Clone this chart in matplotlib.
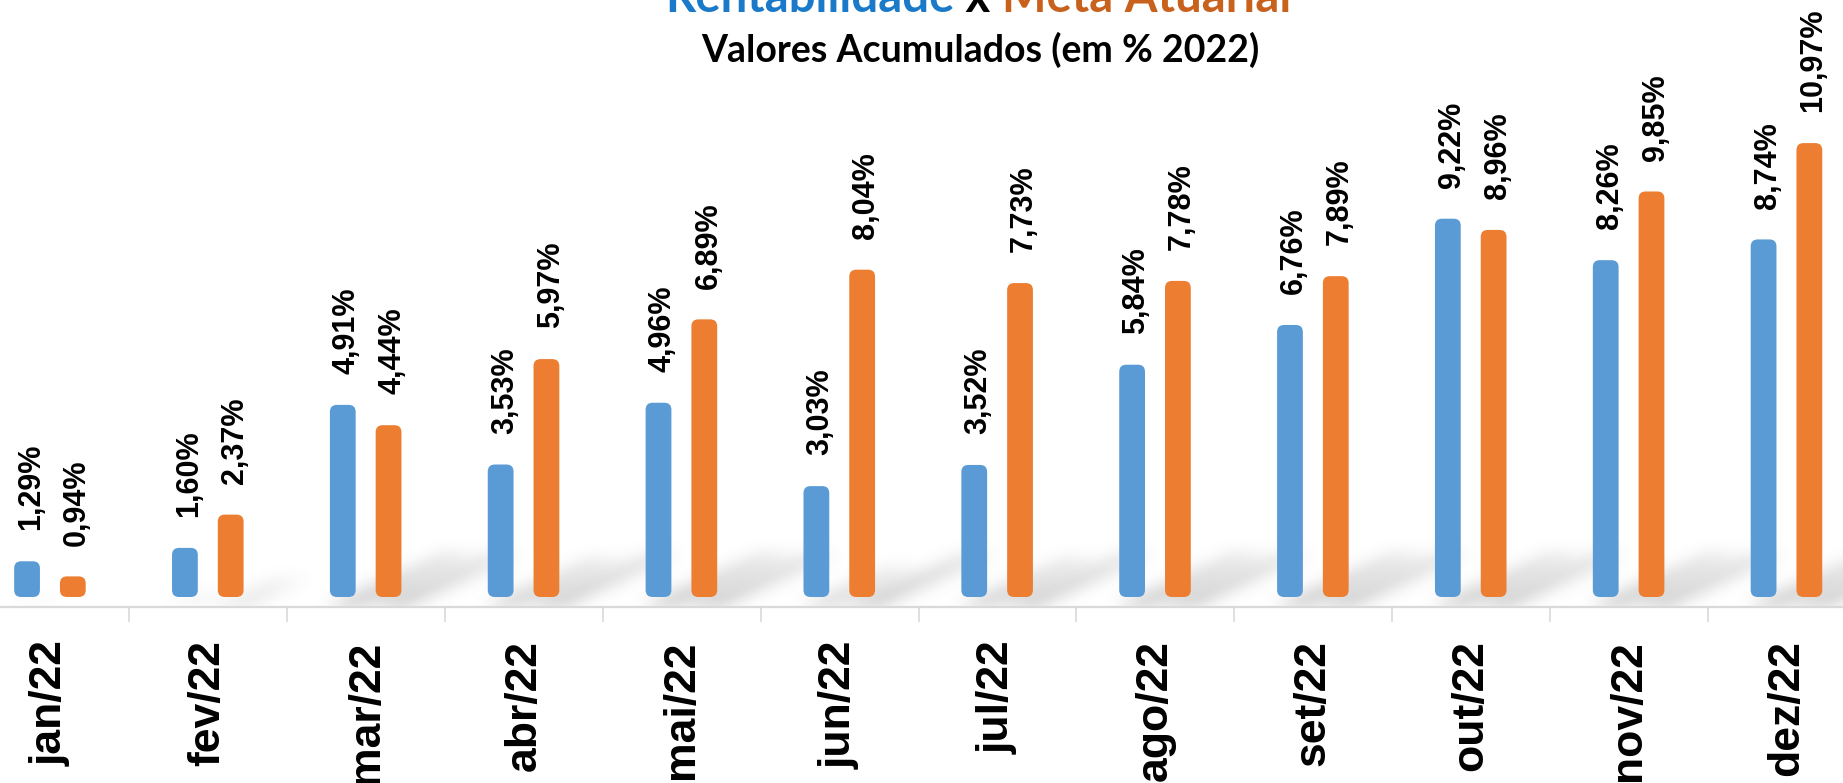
import numpy as np
import matplotlib
matplotlib.use('Agg')
import matplotlib.pyplot as plt
from matplotlib.patches import FancyBboxPatch

# ---------------- data ----------------
months = ['jan/22', 'fev/22', 'mar/22', 'abr/22', 'mai/22', 'jun/22',
          'jul/22', 'ago/22', 'set/22', 'out/22', 'nov/22', 'dez/22']
rentabilidade = [1.29, 1.60, 4.91, 3.53, 4.96, 3.03, 3.52, 5.84, 6.76, 9.22, 8.26, 8.74]
meta_atuarial = [0.94, 2.37, 4.44, 5.97, 6.89, 8.04, 7.73, 7.78, 7.89, 8.96, 9.85, 10.97]

title_parts = [('Rentabilidade', '#1A7AC9'), (' x ', '#000000'), ('Meta Atuarial', '#C8611C')]
subtitle = 'Valores Acumulados (em % 2022)'

# ---------------- style ----------------
BLUE = '#5B9BD5'
ORANGE = '#ED7D31'
GRID = '#D9D9D9'
LABEL_FONT = ['Liberation Sans', 'DejaVu Sans']
TITLE_FONT = ['Lato', 'DejaVu Sans']
plt.rcParams['font.family'] = LABEL_FONT

FIG_W, FIG_H = 1843, 783
fig = plt.figure(figsize=(FIG_W / 100, FIG_H / 100), dpi=100)

ax_left_px, ax_right_px = -28.6, 1865.8
axis_y_px = 607          # axis line, from top
px_per_unit = 43.2
ax = fig.add_axes([ax_left_px / FIG_W, (FIG_H - axis_y_px) / FIG_H,
                   (ax_right_px - ax_left_px) / FIG_W, axis_y_px / FIG_H])
ax.set_xlim(-0.5, 11.5)
ymax = axis_y_px / px_per_unit
ax.set_ylim(0, ymax)

W = ax_right_px - ax_left_px
px_per_x = W / 12.0
x = np.arange(len(months))
bw = 0.29
off_b, off_o = -0.1475, 0.1425

# ---------------- soft diagonal shadows ----------------
Wi = int(round(W))
Hs = 150
yy, xx = np.mgrid[0:Hs, 0:Wi].astype(float)
mask = np.zeros((Hs, Wi))
for series, off in ((rentabilidade, off_b), (meta_atuarial, off_o)):
    for i, v in enumerate(series):
        xc = (x[i] + off + 0.5) * px_per_x
        strength = float(np.clip((v - 0.8) / 3.0, 0, 1))
        if strength <= 0:
            continue
        L, Hh, wd = 115 * strength, 52 * strength, 34
        k = L / max(Hh, 1e-6)
        d = xx - xc - yy * k
        inside = (np.abs(d) <= wd / 2) & (yy <= Hh)
        mask = np.maximum(mask, inside * (1.0 - 0.55 * yy / max(Hh, 1e-6)) * strength)

def blur(a, s):
    r = int(3 * s)
    t = np.arange(-r, r + 1)
    kern = np.exp(-t ** 2 / (2 * s ** 2))
    kern /= kern.sum()
    out = np.zeros_like(a)
    pad = np.pad(a, ((0, 0), (r, r)), mode='constant')
    for j, kv in enumerate(kern):
        out += kv * pad[:, j:j + a.shape[1]]
    pad = np.pad(out, ((r, r), (0, 0)), mode='constant')
    out2 = np.zeros_like(a)
    for j, kv in enumerate(kern):
        out2 += kv * pad[j:j + a.shape[0], :]
    return out2

mask = blur(mask, 8)
img = np.zeros((Hs, Wi, 4))
img[..., :3] = 0.45
img[..., 3] = np.clip(mask * 0.42, 0, 1)
ax.imshow(img[::-1], extent=[-0.5, 11.5, 0, Hs / px_per_unit], origin='upper',
          aspect='auto', zorder=1, interpolation='bilinear')

# ---------------- bars (soft, rounded edges) ----------------
aspect = px_per_x / px_per_unit
inset = 10.0 / px_per_x       # soft-edge inset, in x units
rround = 7.0 / px_per_x

def rounded_bars(positions, values, color):
    bars = ax.bar(positions, values, bw, color=color, linewidth=0)
    for b in bars:
        b.set_visible(False)
        fb = FancyBboxPatch((b.get_x(), b.get_y()), b.get_width(), b.get_height(),
                            boxstyle=f'round,pad={-inset},rounding_size={rround}',
                            mutation_aspect=aspect, facecolor=color,
                            edgecolor='none', zorder=3)
        ax.add_patch(fb)

rounded_bars(x + off_b, rentabilidade, BLUE)
rounded_bars(x + off_o, meta_atuarial, ORANGE)

def fmt(v):
    return f'{v:.2f}'.replace('.', ',') + '%'

for pos, series in ((x + off_b, rentabilidade), (x + off_o, meta_atuarial)):
    for xi, v in zip(pos, series):
        ax.annotate(fmt(v), (xi, v), xytext=(3, 15), textcoords='offset points',
                    rotation=90, ha='center', va='bottom', fontsize=22,
                    fontweight='bold', color='black', zorder=4,
                    annotation_clip=False)

# ---------------- axes ----------------
for s in ['left', 'right', 'top']:
    ax.spines[s].set_visible(False)
ax.spines['bottom'].set_color(GRID)
ax.spines['bottom'].set_linewidth(1.6)
ax.set_yticks([])
ax.set_xticks(x)
ax.set_xticklabels(months, rotation=90, fontsize=32, fontweight='bold')
ax.set_xticks(np.arange(0.5, 11.5, 1.0), minor=True)
ax.tick_params(axis='x', which='major', length=0, pad=24)
ax.tick_params(axis='x', which='minor', length=11, width=1.2, color=GRID, direction='out')
ax.patch.set_alpha(0)

# ---------------- title ----------------
fig.canvas.draw()
renderer = fig.canvas.get_renderer()
title_size = 34
texts = []
for s, c in title_parts:
    t = fig.text(0, 0, s, fontsize=title_size, fontweight='bold', color=c,
                 va='baseline', ha='left', family=TITLE_FONT)
    texts.append(t)
widths = [t.get_window_extent(renderer).width for t in texts]
total = sum(widths)
cx = 978.0
base_y = (FIG_H - 12) / FIG_H
xpos = cx - total / 2
for t, w in zip(texts, widths):
    t.set_position((xpos / FIG_W, base_y))
    xpos += w

fig.text(980 / FIG_W, (FIG_H - 62) / FIG_H, subtitle, fontsize=27,
         fontweight='bold', ha='center', va='baseline', color='black',
         family=TITLE_FONT)

fig.savefig('out.png', dpi=100)
